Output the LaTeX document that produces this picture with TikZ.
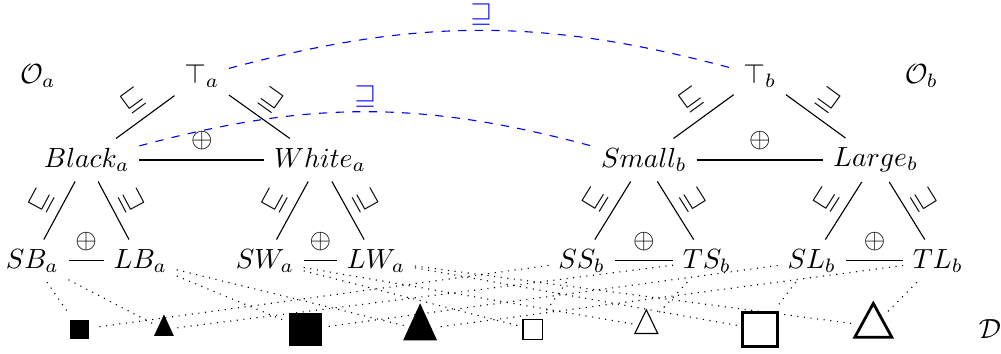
\documentclass[tikz,border=0pt]{standalone}
\usepackage{amsmath}
\usepackage{amssymb}
\usetikzlibrary{shapes.geometric}

\begin{document}
\begin{tikzpicture}[
    link/.style={dotted},
    mapping/.style={blue, dashed, bend left=15},
    sq/.style={rectangle, inner sep=0pt, outer sep=2pt},
    tri/.style={isosceles triangle, shape border rotate=90, isosceles triangle stretches, inner sep=0pt, outer sep=2pt}
]
\useasboundingbox (0,0) rectangle (12.70,4.48);

    % Left side: ontology a
    \node (Oa) at (0.48,3.52) {$\mathcal{O}_a$};
    \node (Ta) at (2.56,3.52) {$\top_a$};
    \node (Black) at (1.10,2.45) {$Black_a$};
    \node (White) at (4.06,2.45) {$White_a$};
    \node (SB) at (0.41,1.17) {$SB_a$};
    \node (LB) at (1.78,1.17) {$LB_a$};
    \node (SW) at (3.36,1.17) {$SW_a$};
    \node (LW) at (4.77,1.17) {$LW_a$};

    \draw (Ta) -- node[sloped, above] {$\sqsubseteq$} (Black);
    \draw (Ta) -- node[sloped, above] {$\sqsupseteq$} (White);
    \draw (Black) -- node[above] {$\oplus$} (White);
    \draw (Black) -- node[sloped, above] {$\sqsubseteq$} (SB);
    \draw (Black) -- node[sloped, above] {$\sqsupseteq$} (LB);
    \draw (SB) -- node[above] {$\oplus$} (LB);
    \draw (White) -- node[sloped, above] {$\sqsubseteq$} (SW);
    \draw (White) -- node[sloped, above] {$\sqsupseteq$} (LW);
    \draw (SW) -- node[above] {$\oplus$} (LW);

    % Right side: ontology b
    \node (Ob) at (11.69,3.52) {$\mathcal{O}_b$};
    \node (Tb) at (9.64,3.52) {$\top_b$};
    \node (Small) at (8.17,2.45) {$Small_b$};
    \node (Large) at (11.11,2.45) {$Large_b$};
    \node (SS) at (7.38,1.17) {$SS_b$};
    \node (TS) at (8.97,1.17) {$TS_b$};
    \node (SL) at (10.30,1.17) {$SL_b$};
    \node (TL) at (11.90,1.17) {$TL_b$};

    \draw (Tb) -- node[sloped, above] {$\sqsubseteq$} (Small);
    \draw (Tb) -- node[sloped, above] {$\sqsupseteq$} (Large);
    \draw (Small) -- node[above] {$\oplus$} (Large);
    \draw (Small) -- node[sloped, above] {$\sqsubseteq$} (SS);
    \draw (Small) -- node[sloped, above] {$\sqsupseteq$} (TS);
    \draw (SS) -- node[above] {$\oplus$} (TS);
    \draw (Large) -- node[sloped, above] {$\sqsubseteq$} (SL);
    \draw (Large) -- node[sloped, above] {$\sqsupseteq$} (TL);
    \draw (SL) -- node[above] {$\oplus$} (TL);

    % Alignment between the two
    \draw[mapping] (Ta) to node[above, inner sep=0pt, yshift=1.5pt] {$\sqsupseteq$} (Tb);
    \draw[mapping] (Black) to node[above, inner sep=0pt, yshift=1.5pt] {$\sqsupseteq$} (Small);

    % Domain: the eight objects
    \node[sq, fill=black, minimum size=0.24cm] (bsq) at (1.01,0.30) {};
    \node[tri, fill=black, minimum width=0.25cm, minimum height=0.27cm] (btri) at (2.08,0.30) {};
    \node[sq, fill=black, minimum size=0.42cm] (Bsq) at (3.88,0.30) {};
    \node[tri, fill=black, minimum width=0.43cm, minimum height=0.47cm] (Btri) at (5.33,0.30) {};
    \node[sq, draw, minimum size=0.25cm] (wsq) at (6.76,0.30) {};
    \node[tri, draw, minimum width=0.29cm, minimum height=0.30cm] (wtri) at (8.20,0.34) {};
    \node[sq, draw, line width=1pt, minimum size=0.44cm] (Wsq) at (9.64,0.30) {};
    \node[tri, draw, line width=1pt, minimum width=0.47cm, minimum height=0.43cm] (Wtri) at (11.08,0.34) {};
    \node (D) at (12.56,0.30) {$\mathcal{D}$};

    % Interpretation of the leaf concepts
    \draw[link] (SB) -- (bsq);
    \draw[link] (SB) -- (btri);
    \draw[link] (LB) -- (Bsq);
    \draw[link] (LB) -- (Btri);
    \draw[link] (SW) -- (wsq);
    \draw[link] (SW) -- (wtri);
    \draw[link] (LW) -- (Wsq);
    \draw[link] (LW) -- (Wtri);
    \draw[link] (SS) -- (bsq);
    \draw[link] (SS) -- (wsq);
    \draw[link] (TS) -- (btri);
    \draw[link] (TS) -- (wtri);
    \draw[link] (SL) -- (Bsq);
    \draw[link] (SL) -- (Wsq);
    \draw[link] (TL) -- (Btri);
    \draw[link] (TL) -- (Wtri);

\end{tikzpicture}
\end{document}
